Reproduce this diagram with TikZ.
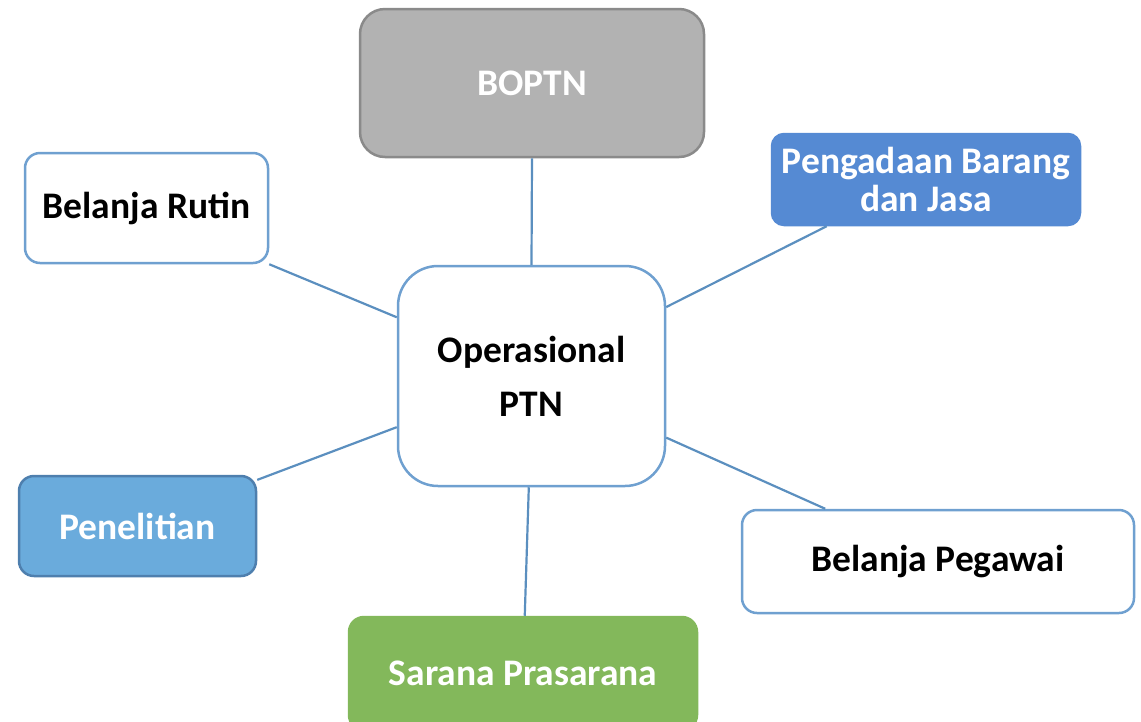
\documentclass[tikz,border=0pt]{standalone}
\usepackage{fontspec}
\setmainfont{Carlito}
\usetikzlibrary{calc}
\definecolor{linec}{HTML}{5B8FBF}
\definecolor{wborder}{HTML}{6FA0D0}
\definecolor{grayfill}{HTML}{B2B2B2}
\definecolor{graydraw}{HTML}{8A8A8A}
\definecolor{pengfill}{HTML}{558AD3}
\definecolor{penfill}{HTML}{6AABDC}
\definecolor{pendraw}{HTML}{4E7FAE}
\definecolor{sarfill}{HTML}{83B85B}
\tikzset{
  box/.style={rectangle, rounded corners=15pt, line width=2.5pt, inner sep=0pt,
    font=\bfseries\fontsize{37.5}{38}\selectfont, align=center},
  whitebox/.style={box, draw=wborder, fill=white, text=black},
  conn/.style={draw=linec, line width=2.2pt}
}
\begin{document}
\begin{tikzpicture}[x=1pt,y=-1pt]
\useasboundingbox (0,0) rectangle (1141,721);
\node[box, draw=graydraw, fill=grayfill, text=white, rounded corners=25pt,
  minimum width=344pt, minimum height=148pt] (boptn) at (532,83) {BOPTN};
\node[box, draw=pengfill, fill=pengfill, text=white, rounded corners=12pt,
  minimum width=308pt, minimum height=91pt] (peng) at (926,179.5)
  {Pengadaan Barang\\dan Jasa};
\node[whitebox, minimum width=243pt, minimum height=110pt] (rutin) at (146.5,208) {Belanja Rutin};
\node[whitebox, rounded corners=40pt, minimum width=267pt, minimum height=220pt] (op) at (531.5,376)
  {Operasional\\[16pt]PTN};
\node[box, draw=pendraw, fill=penfill, text=white,
  minimum width=237pt, minimum height=100pt] (penel) at (137.5,526) {Penelitian};
\node[whitebox, minimum width=392pt, minimum height=103pt] (peg) at (938,561.5) {Belanja Pegawai};
\node[box, draw=sarfill, fill=sarfill, text=white,
  minimum width=348pt, minimum height=113pt] (sar) at (523,673.5) {Sarana Prasarana};
% connectors
\draw[conn] (boptn.south) -- (op.north);
\draw[conn] (rutin.south east) -- ($(op.north west)!0.236!(op.south west)$);
\draw[conn] ($(peng.south west)!0.18!(peng.south east)$) -- ($(op.north east)!0.19!(op.south east)$);
\draw[conn] ($(penel.north east)!0.05!(penel.south east)$) -- ($(op.north west)!0.73!(op.south west)$);
\draw[conn] ($(peg.north west)!0.214!(peg.north east)$) -- ($(op.north east)!0.777!(op.south east)$);
\draw[conn] ($(op.south west)!0.49!(op.south east)$) -- ($(sar.north west)!0.505!(sar.north east)$);
\end{tikzpicture}
\end{document}
